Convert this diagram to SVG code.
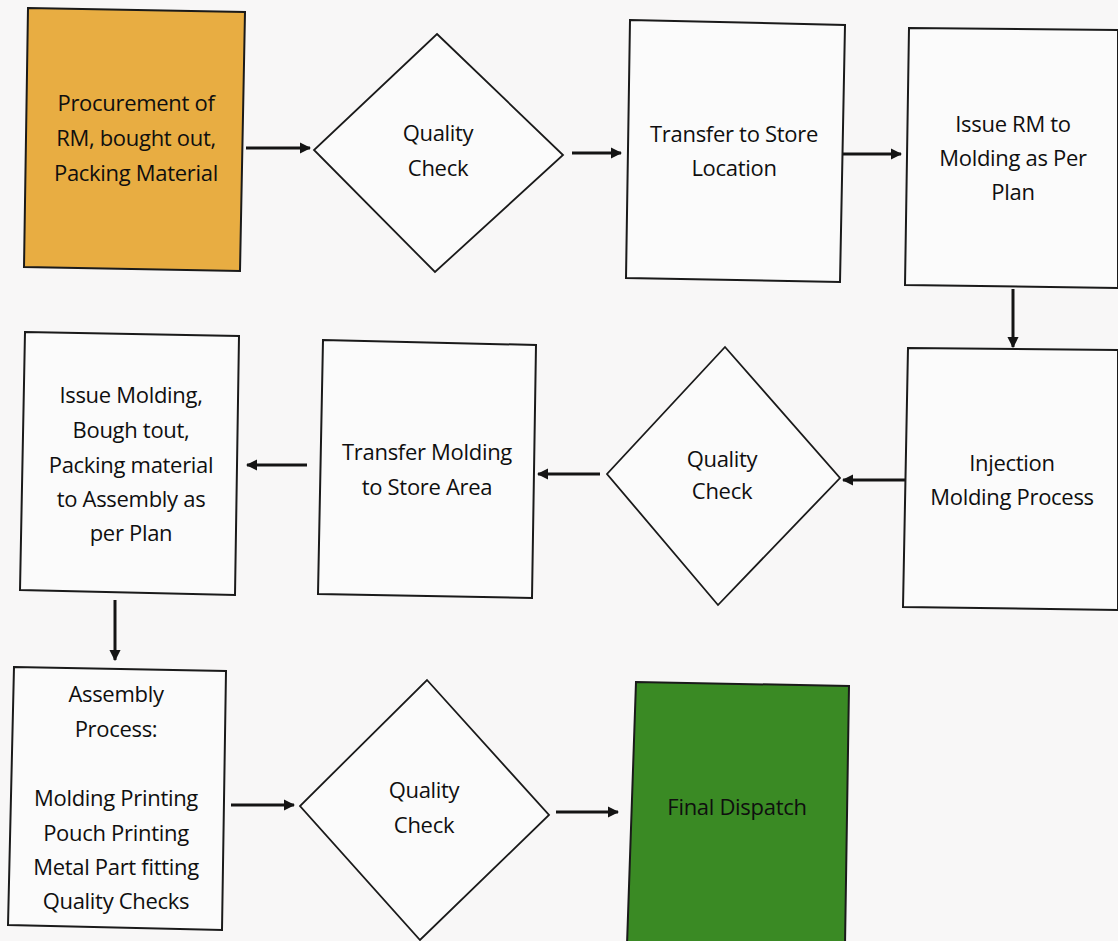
<svg xmlns="http://www.w3.org/2000/svg" width="1118" height="941" viewBox="0 0 1118 941">
<style>
.box{fill:#fbfbfb;stroke:#1a1a1a;stroke-width:2}
.dia{fill:#fbfbfb;stroke:#1a1a1a;stroke-width:1.8}
.t{font-family:"Open Sans","Liberation Sans",sans-serif;font-size:22px;fill:#0f0f0f;text-anchor:middle;letter-spacing:-0.3px}
.c{stroke:#141414;stroke-width:3;fill:none;marker-end:url(#ah)}
</style>
<defs>
<marker id="ah" viewBox="0 0 10 10" refX="9" refY="5" markerWidth="3.8" markerHeight="3.8" orient="auto" markerUnits="strokeWidth">
<path d="M0,0 L10,5 L0,10 Z" fill="#141414"/>
</marker>
</defs>
<rect width="1118" height="941" fill="#f8f7f7"/>
<g id="connectors">
<line class="c" x1="246" y1="148" x2="310" y2="148"/>
<line class="c" x1="572" y1="153" x2="621" y2="153"/>
<line class="c" x1="841" y1="154" x2="901" y2="154"/>
<line class="c" x1="1013" y1="289" x2="1013" y2="347"/>
<line class="c" x1="905" y1="480" x2="843" y2="480"/>
<line class="c" x1="600" y1="474" x2="538" y2="474"/>
<line class="c" x1="307" y1="465" x2="247" y2="465"/>
<line class="c" x1="115" y1="600" x2="115" y2="660"/>
<line class="c" x1="231" y1="805" x2="294" y2="805"/>
<line class="c" x1="556" y1="812" x2="618" y2="812"/>
</g>
<g id="procurement">
<polygon points="28,8 245,12 240,271 24,267" fill="#e8ad42" stroke="#1a1a1a" stroke-width="2"/>
<text class="t" x="136" y="111">Procurement of</text>
<text class="t" x="136" y="146">RM, bought out,</text>
<text class="t" x="136" y="181">Packing Material</text>
</g>
<g id="qc1">
<polygon class="dia" points="437,34 563,155 435,272 314,150"/>
<text class="t" x="438" y="141">Quality</text>
<text class="t" x="438" y="176">Check</text>
</g>
<g id="transfer-store">
<polygon class="box" points="630,20 845,25 840,282 626,278"/>
<text class="t" x="734" y="142">Transfer to Store</text>
<text class="t" x="734" y="176">Location</text>
</g>
<g id="issue-rm">
<polygon class="box" points="909,28 1118,30 1118,288 905,285"/>
<text class="t" x="1013" y="132">Issue RM to</text>
<text class="t" x="1013" y="166">Molding as Per</text>
<text class="t" x="1013" y="200">Plan</text>
</g>
<g id="injection">
<polygon class="box" points="908,348 1118,350 1118,610 903,607"/>
<text class="t" x="1012" y="471">Injection</text>
<text class="t" x="1012" y="505">Molding Process</text>
</g>
<g id="qc2">
<polygon class="dia" points="725,347 840,478 718,605 607,474"/>
<text class="t" x="722" y="467">Quality</text>
<text class="t" x="722" y="499">Check</text>
</g>
<g id="transfer-molding">
<polygon class="box" points="323,340 536,345 532,598 318,594"/>
<text class="t" x="427" y="460">Transfer Molding</text>
<text class="t" x="427" y="495">to Store Area</text>
</g>
<g id="issue-molding">
<polygon class="box" points="25,332 239,336 235,595 20,590"/>
<text class="t" x="131" y="403">Issue Molding,</text>
<text class="t" x="131" y="438">Bough tout,</text>
<text class="t" x="131" y="473">Packing material</text>
<text class="t" x="131" y="507">to Assembly as</text>
<text class="t" x="131" y="541">per Plan</text>
</g>
<g id="assembly">
<polygon class="box" points="14,667 226,671 222,930 8,925"/>
<text class="t" x="116" y="702">Assembly</text>
<text class="t" x="116" y="737">Process:</text>
<text class="t" x="116" y="806">Molding Printing</text>
<text class="t" x="116" y="841">Pouch Printing</text>
<text class="t" x="116" y="875">Metal Part fitting</text>
<text class="t" x="116" y="909">Quality Checks</text>
</g>
<g id="qc3">
<polygon class="dia" points="427,680 549,815 420,940 300,806"/>
<text class="t" x="424" y="798">Quality</text>
<text class="t" x="424" y="833">Check</text>
</g>
<g id="final-dispatch">
<polygon points="636,682 849,686 845,945 627,945" fill="#3a8a24" stroke="#1a1a1a" stroke-width="2"/>
<text class="t" x="737" y="815">Final Dispatch</text>
</g>
</svg>
